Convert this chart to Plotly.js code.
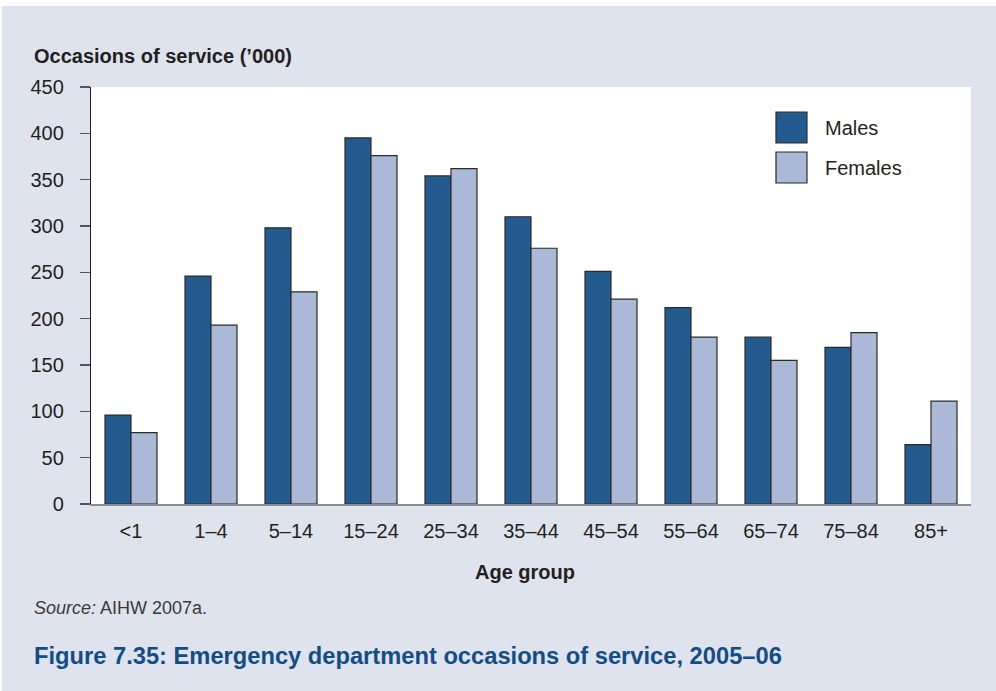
<!DOCTYPE html>
<html>
<head>
<meta charset="utf-8">
<script src="https://cdn.plot.ly/plotly-3.0.1.min.js"></script>
<style>
  html, body { margin: 0; padding: 0; background: #ffffff; width: 996px; height: 691px; overflow: hidden; }
  #chart { position: absolute; left: 2px; top: 6px; width: 994px; height: 685px; }
</style>
</head>
<body>
<div id="chart"></div>
<script>
const ageGroups = ['<1', '1–4', '5–14', '15–24', '25–34', '35–44', '45–54', '55–64', '65–74', '75–84', '85+'];
const males   = [96, 246, 298, 395, 354, 310, 251, 212, 180, 169, 64];
const females = [77, 193, 229, 376, 362, 276, 221, 180, 155, 185, 111];
const seriesNames = ['Males', 'Females'];
const seriesColors = ['#235b8f', '#aab9d6'];
const yTickVals = [0, 50, 100, 150, 200, 250, 300, 350, 400, 450];

const FONT = 'Liberation Sans, Arial, Helvetica, sans-serif';
const TXT = '#231f20';

const traces = [males, females].map((vals, i) => ({
  type: 'bar',
  name: seriesNames[i],
  x: ageGroups,
  y: vals,
  marker: { color: seriesColors[i], line: { color: '#2a2a2a', width: 1.2 } },
  showlegend: false,
  hoverinfo: 'x+y+name'
}));

// legend drawn manually (large square swatches)
const legY = [[0.8657, 0.9400], [0.7698, 0.8441]];
const shapes = seriesNames.map((n, i) => ({
  type: 'rect', xref: 'paper', yref: 'paper',
  x0: 0.7784, x1: 0.8136, y0: legY[i][0], y1: legY[i][1],
  fillcolor: seriesColors[i], line: { color: '#2a2a2a', width: 1.2 }
}));
const annotations = seriesNames.map((n, i) => ({
  text: n, xref: 'paper', yref: 'paper', x: 0.8318, y: (legY[i][0] + legY[i][1]) / 2,
  xanchor: 'left', yanchor: 'middle', showarrow: false,
  font: { family: FONT, size: 20, color: TXT }
}));
annotations.push(
  { text: '<b>Occasions of service (’000)</b>', xref: 'paper', yref: 'paper', x: -0.0675, y: 1.0743,
    xanchor: 'left', yanchor: 'middle', showarrow: false, font: { family: FONT, size: 20, color: TXT } },
  { text: '<b>Age group</b>', xref: 'paper', yref: 'paper', x: 0.493, y: -0.1619,
    xanchor: 'center', yanchor: 'middle', showarrow: false, font: { family: FONT, size: 20, color: TXT } },
  { text: '<i>Source:</i> AIHW 2007a.', xref: 'paper', yref: 'paper', x: -0.0675, y: -0.2494,
    xanchor: 'left', yanchor: 'middle', showarrow: false, font: { family: FONT, size: 18, color: '#3a3a3a' } },
  { text: '<b>Figure 7.35: Emergency department occasions of service, 2005–06</b>', xref: 'paper', yref: 'paper',
    x: -0.0675, y: -0.3657, xanchor: 'left', yanchor: 'middle', showarrow: false,
    font: { family: FONT, size: 23.7, color: '#124d87' } }
);

const layout = {
  width: 994, height: 685,
  margin: { l: 89, r: 25, t: 81, b: 187, pad: 0 },
  paper_bgcolor: '#dfe3ee',
  plot_bgcolor: '#ffffff',
  barmode: 'group',
  bargap: 0.35,
  bargroupgap: 0,
  font: { family: FONT, size: 20, color: TXT },
  xaxis: {
    type: 'category',
    showline: true, linecolor: '#8c8c8c', linewidth: 1.5,
    ticks: '', showgrid: false, zeroline: false,
    tickfont: { family: FONT, size: 20, color: TXT },
    ticklabelstandoff: 8
  },
  yaxis: {
    range: [0, 450],
    tickvals: yTickVals,
    ticktext: yTickVals.map(String),
    showline: true, linecolor: '#231f20', linewidth: 1.2,
    ticks: 'outside', ticklen: 10, tickwidth: 1.2, tickcolor: '#4d5866',
    ticklabelstandoff: 12,
    showgrid: false, zeroline: false,
    tickfont: { family: FONT, size: 20, color: TXT }
  },
  shapes: shapes,
  annotations: annotations
};

Plotly.newPlot('chart', traces, layout, { displayModeBar: false, staticPlot: true });
</script>
</body>
</html>
